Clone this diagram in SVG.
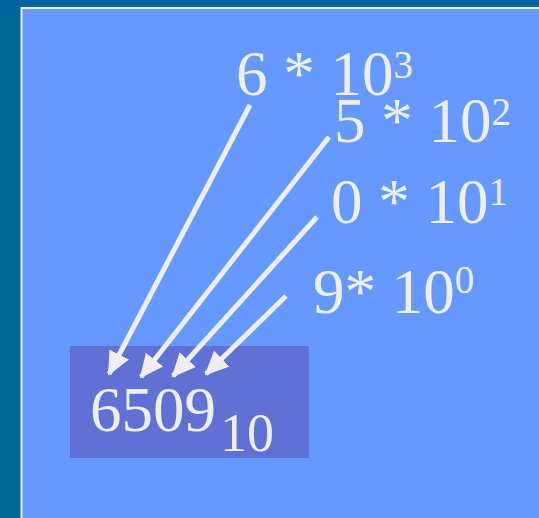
<svg xmlns="http://www.w3.org/2000/svg" width="539" height="518" viewBox="0 0 539 518">
<style>
.t{font-family:"Liberation Serif","Times New Roman",serif;fill:#EEEEEE}
.a{stroke:#EEEEEE;stroke-width:5;fill:none;marker-end:url(#ah)}
</style>
<defs>
<marker id="ah" markerUnits="userSpaceOnUse" markerWidth="24" markerHeight="22" viewBox="0 0 24 22" refX="22" refY="11" orient="auto">
<path d="M0,0 L24,11 L0,22 Z" fill="#EEEEEE"/>
</marker>
</defs>
<rect x="0" y="0" width="539" height="518" fill="#006699"/>
<rect x="21.5" y="8" width="520" height="520" fill="#6699FF" stroke="#EEEEEE" stroke-width="2"/>
<g id="result">
<rect x="70" y="346" width="239" height="112" fill="#6070D4"/>
<text class="t" x="90" y="431" font-size="63">6509<tspan font-size="54" dx="4" dy="20">10</tspan></text>
</g>
<g id="term3"><text class="t" x="236" y="95" font-size="63">6 * 10<tspan font-size="39" dy="-17">3</tspan></text></g>
<g id="term2"><text class="t" x="334" y="142" font-size="63">5 * 10<tspan font-size="39" dy="-17">2</tspan></text></g>
<g id="term1"><text class="t" x="331" y="223" font-size="63">0 * 10<tspan font-size="39" dy="-18">1</tspan></text></g>
<g id="term0"><text class="t" x="313" y="313" font-size="63">9* 10<tspan font-size="39" dy="-20">0</tspan></text></g>
<g id="connectors">
<line class="a" x1="250" y1="105" x2="109" y2="374"/>
<line class="a" x1="329" y1="137" x2="141" y2="377"/>
<line class="a" x1="317" y1="217" x2="173" y2="376"/>
<line class="a" x1="286" y1="296" x2="206" y2="374"/>
</g>
</svg>
